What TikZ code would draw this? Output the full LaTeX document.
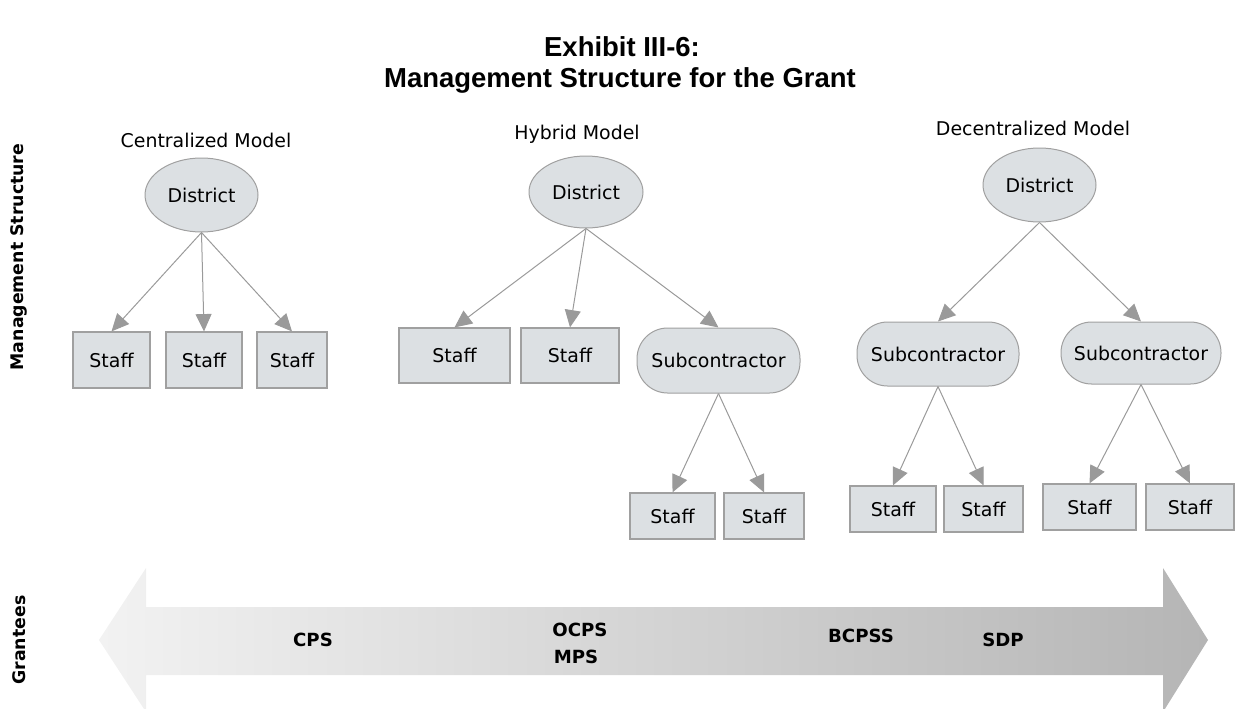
\documentclass[tikz,border=0pt]{standalone}
\usepackage{fontspec}
\setmainfont{DejaVu Sans}
\newfontfamily\titlefont{Liberation Sans}
\usetikzlibrary{arrows.meta,shapes.geometric}
\definecolor{nodefill}{HTML}{DCE0E3}
\definecolor{nodeline}{HTML}{A0A0A0}
\definecolor{arrowgray}{HTML}{9A9A9A}
\definecolor{bandL}{HTML}{F2F2F2}
\definecolor{bandR}{HTML}{B5B5B5}
\begin{document}
\begin{tikzpicture}[x=0.75pt,y=-0.75pt,
  every node/.style={font=\fontsize{14.2}{17}\selectfont, text=black, inner sep=0pt},
  sz/.style 2 args={minimum width=#1*0.75pt, minimum height=#2*0.75pt},
  district/.style={ellipse, draw=nodeline, fill=nodefill, line width=0.75pt},
  staffbox/.style={rectangle, draw=nodeline, fill=nodefill, line width=0.9pt},
  subbox/.style={rectangle, rounded corners=23pt, draw=nodeline, fill=nodefill, line width=0.75pt},
  link/.style={draw=arrowgray, line width=0.75pt, -{Triangle[length=13pt,width=12pt]}},
  titletext/.style={font=\titlefont\bfseries\fontsize{20.6}{25}\selectfont, anchor=base},
  grantee/.style={font=\bfseries\fontsize{13.6}{15}\selectfont},
  axislab/.style={font=\bfseries\fontsize{13}{15}\selectfont, rotate=90}]
\clip (0,0) rectangle (1239,708);

% title
\node[titletext] (t1) at (622,56) {Exhibit III-6:};
\node[titletext] (t2) at (620,87) {Management Structure for the Grant};

% side labels
\node[axislab] (ms) at (19,257) {Management Structure};
\node[axislab] (gr) at (19,640) {Grantees};

% Centralized model
\node (cLab) at (206,140) {Centralized Model};
\node[district, sz={113}{74}] (cD) at (201.5,195) {District};
\node[staffbox, sz={77}{56}] (cS1) at (111.5,360) {Staff};
\node[staffbox, sz={76}{56}] (cS2) at (204,360) {Staff};
\node[staffbox, sz={70}{56}] (cS3) at (292,360) {Staff};
\draw[link] (cD.south) -- (cS1.north);
\draw[link] (cD.south) -- (cS2.north);
\draw[link] (cD.south) -- (cS3.north);

% Hybrid model
\node (hLab) at (577,134) {Hybrid Model};
\node[district, sz={114}{72}] (hD) at (586,192) {District};
\node[staffbox, sz={111}{55}] (hS1) at (454.5,355.5) {Staff};
\node[staffbox, sz={98}{55}] (hS2) at (570,355.5) {Staff};
\node[subbox, sz={163}{65}] (hSub) at (718.5,360.5) {Subcontractor};
\node[staffbox, sz={85}{46}] (hS3) at (672.5,516) {Staff};
\node[staffbox, sz={80}{46}] (hS4) at (764,516) {Staff};
\draw[link] (hD.south) -- (hS1.north);
\draw[link] (hD.south) -- (hS2.north);
\draw[link] (hD.south) -- (hSub.north);
\draw[link] (hSub.south) -- (hS3.north);
\draw[link] (hSub.south) -- (hS4.north);

% Decentralized model
\node (dLab) at (1033,128) {Decentralized Model};
\node[district, sz={113}{74}] (dD) at (1039.5,185) {District};
\node[subbox, sz={162}{64}] (dSub1) at (938,354) {Subcontractor};
\node[subbox, sz={160}{62}] (dSub2) at (1141,353) {Subcontractor};
\node[staffbox, sz={86}{46}] (dS1) at (893,509) {Staff};
\node[staffbox, sz={79}{46}] (dS2) at (983.5,509) {Staff};
\node[staffbox, sz={93}{46}] (dS3) at (1089.5,507) {Staff};
\node[staffbox, sz={88}{46}] (dS4) at (1190,507) {Staff};
\draw[link] (dD.south) -- (dSub1.north);
\draw[link] (dD.south) -- (dSub2.north);
\draw[link] (dSub1.south) -- (dS1.north);
\draw[link] (dSub1.south) -- (dS2.north);
\draw[link] (dSub2.south) -- (dS3.north);
\draw[link] (dSub2.south) -- (dS4.north);

% Grantees band
\shade[left color=bandL, right color=bandR]
  (99,640) -- (146,568) -- (146,607) -- (1163,607) -- (1163,568) -- (1208,640)
  -- (1163,712) -- (1163,675) -- (146,675) -- (146,712) -- cycle;
\node[grantee] (cps) at (313,640) {CPS};
\node[grantee] (ocps) at (580,630) {OCPS};
\node[grantee] (mps) at (576,657) {MPS};
\node[grantee] (bcpss) at (861,636) {BCPSS};
\node[grantee] (sdp) at (1003,640) {SDP};
\end{tikzpicture}
\end{document}
